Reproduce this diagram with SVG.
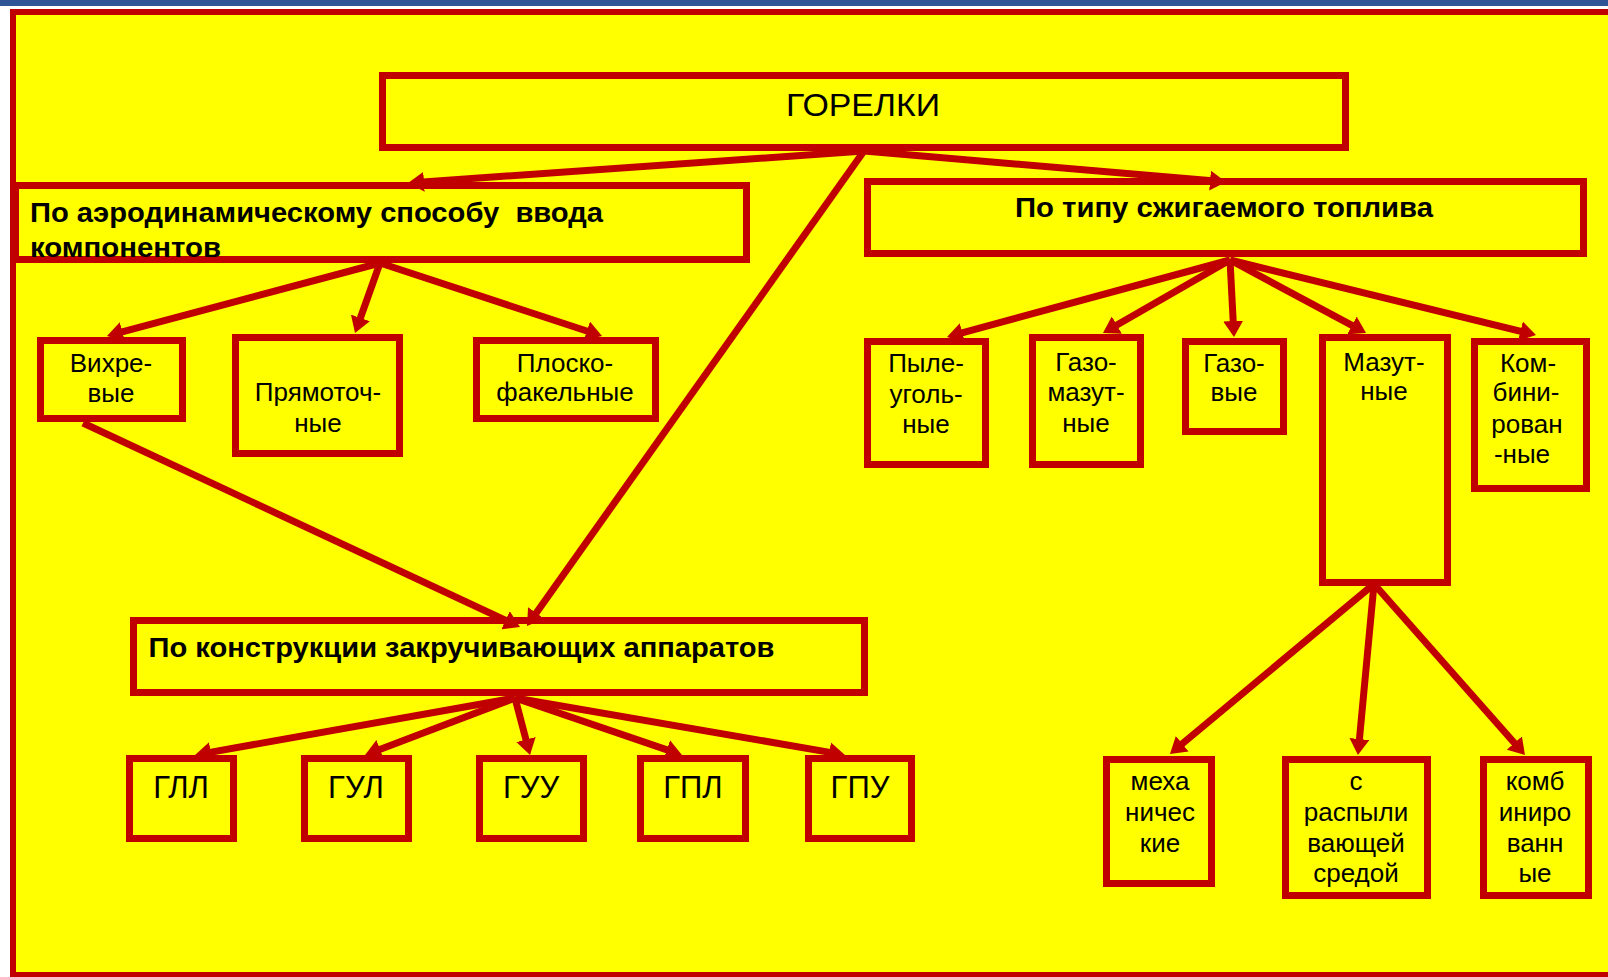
<svg xmlns="http://www.w3.org/2000/svg" width="1608" height="977" viewBox="0 0 1608 977">
<style>
.box{fill:none;stroke:#C00000;stroke-width:7}
.con{fill:none;stroke:#C00000;stroke-width:7;marker-end:url(#ah)}
.t{font-family:"Liberation Sans",Arial,sans-serif;font-size:26px;fill:#000;text-anchor:middle}
.h{font-family:"Liberation Sans",Arial,sans-serif;font-size:28px;font-weight:bold;fill:#000;white-space:pre}
.g{font-family:"Liberation Sans",Arial,sans-serif;font-size:31px;fill:#000;text-anchor:middle}
</style>
<defs>
<marker id="ah" markerUnits="userSpaceOnUse" markerWidth="16" markerHeight="20" refX="8" refY="10" orient="auto">
<path d="M0,0 L16,10 L0,20 Z" fill="#C00000"/>
</marker>
</defs>
<rect x="0" y="0" width="1608" height="977" fill="#FFFFFF"/>
<rect x="0" y="0" width="1608" height="6" fill="#2F5597"/>
<rect x="13" y="12" width="1700" height="963" fill="#FFFF00" stroke="#C00000" stroke-width="6"/>

<g id="connectors">
<path class="con" d="M864,151 L416,182.4"/>
<path class="con" d="M864,151 L1218,181.3"/>
<path class="con" d="M864,151 L531.6,619.5"/>
<path class="con" d="M380,263 L114.7,333.9"/>
<path class="con" d="M380,263 L357.7,325.5"/>
<path class="con" d="M380,263 L594.4,333.5"/>
<path class="con" d="M83,423 L512.75,623.6"/>
<path class="con" d="M515,698 L202.9,753.6"/>
<path class="con" d="M515,698 L372.5,752.2"/>
<path class="con" d="M515,698 L528,747.3"/>
<path class="con" d="M515,698 L674.4,752.4"/>
<path class="con" d="M515,698 L837.1,753.6"/>
<path class="con" d="M1230,260 L954.7,334.9"/>
<path class="con" d="M1230,260 L1109.9,329"/>
<path class="con" d="M1230,260 L1233.6,329"/>
<path class="con" d="M1230,260 L1359,329.2"/>
<path class="con" d="M1230,260 L1528.2,333.1"/>
<path class="con" d="M1374,584 L1176.1,748.9"/>
<path class="con" d="M1374,584 L1358.7,747"/>
<path class="con" d="M1374,584 L1519.7,749"/>
</g>

<g id="gorelki">
<rect class="box" x="382.5" y="75.5" width="963" height="72"/>
<text class="t" x="863" y="116" style="font-size:32px" textLength="154" lengthAdjust="spacingAndGlyphs">ГОРЕЛКИ</text>
</g>
<g id="aero">
<rect class="box" x="15.5" y="185.5" width="731" height="74"/>
<text class="h" x="30" y="222" textLength="573" lengthAdjust="spacingAndGlyphs">По аэродинамическому способу  ввода</text>
<text class="h" x="30" y="257" textLength="191" lengthAdjust="spacingAndGlyphs">компонентов</text>
</g>
<g id="fuel">
<rect class="box" x="867.5" y="181.5" width="716" height="72"/>
<text class="h" x="1015" y="217" textLength="418" lengthAdjust="spacingAndGlyphs">По типу сжигаемого топлива</text>
</g>
<g id="constr">
<rect class="box" x="133.5" y="620.5" width="731" height="72"/>
<text class="h" x="148.5" y="657" textLength="626" lengthAdjust="spacingAndGlyphs">По конструкции закручивающих аппаратов</text>
</g>

<g id="vihr">
<rect class="box" x="40.5" y="340.5" width="142" height="78"/>
<text class="t" x="111" y="372">Вихре-</text>
<text class="t" x="111" y="402">вые</text>
</g>
<g id="pryam">
<rect class="box" x="235.5" y="337.5" width="164" height="116"/>
<text class="t" x="318" y="401">Прямоточ-</text>
<text class="t" x="318" y="432">ные</text>
</g>
<g id="plosk">
<rect class="box" x="476.5" y="340.5" width="179" height="78"/>
<text class="t" x="565" y="372">Плоско-</text>
<text class="t" x="565" y="401">факельные</text>
</g>

<g id="gll">
<rect class="box" x="129.5" y="758.5" width="104" height="80"/>
<text class="g" x="181" y="798">ГЛЛ</text>
</g>
<g id="gul">
<rect class="box" x="304.5" y="758.5" width="104" height="80"/>
<text class="g" x="356" y="798">ГУЛ</text>
</g>
<g id="guu">
<rect class="box" x="479.5" y="758.5" width="104" height="80"/>
<text class="g" x="531" y="798">ГУУ</text>
</g>
<g id="gpl">
<rect class="box" x="640.5" y="758.5" width="105" height="80"/>
<text class="g" x="693" y="798">ГПЛ</text>
</g>
<g id="gpu">
<rect class="box" x="808.5" y="758.5" width="103" height="80"/>
<text class="g" x="860" y="798">ГПУ</text>
</g>

<g id="pyle">
<rect class="box" x="867.5" y="341.5" width="118" height="123"/>
<text class="t" x="926" y="372">Пыле-</text>
<text class="t" x="926" y="403">уголь-</text>
<text class="t" x="926" y="433">ные</text>
</g>
<g id="gazomazut">
<rect class="box" x="1032.5" y="337.5" width="108" height="127"/>
<text class="t" x="1086" y="371">Газо-</text>
<text class="t" x="1086" y="401">мазут-</text>
<text class="t" x="1086" y="432">ные</text>
</g>
<g id="gaz">
<rect class="box" x="1185.5" y="341.5" width="98" height="90"/>
<text class="t" x="1234" y="372">Газо-</text>
<text class="t" x="1234" y="401">вые</text>
</g>
<g id="mazut">
<rect class="box" x="1322.5" y="337.5" width="125" height="245"/>
<text class="t" x="1384" y="371">Мазут-</text>
<text class="t" x="1384" y="400">ные</text>
</g>
<g id="kombinir">
<rect class="box" x="1474.5" y="341.5" width="112" height="147"/>
<text class="t" x="1528" y="372">Ком-</text>
<text class="t" x="1526" y="401">бини-</text>
<text class="t" x="1527" y="433">рован</text>
<text class="t" x="1522" y="463">-ные</text>
</g>

<g id="meh">
<rect class="box" x="1106.5" y="759.5" width="105" height="124"/>
<text class="t" x="1160" y="790">меха</text>
<text class="t" x="1160" y="821">ничес</text>
<text class="t" x="1160" y="852">кие</text>
</g>
<g id="spray">
<rect class="box" x="1285.5" y="759.5" width="142" height="136"/>
<text class="t" x="1356" y="790">с</text>
<text class="t" x="1356" y="821">распыли</text>
<text class="t" x="1356" y="852">вающей</text>
<text class="t" x="1356" y="882">средой</text>
</g>
<g id="kombi">
<rect class="box" x="1483.5" y="759.5" width="105" height="136"/>
<text class="t" x="1535" y="790">комб</text>
<text class="t" x="1535" y="821">иниро</text>
<text class="t" x="1535" y="852">ванн</text>
<text class="t" x="1535" y="882">ые</text>
</g>
</svg>
